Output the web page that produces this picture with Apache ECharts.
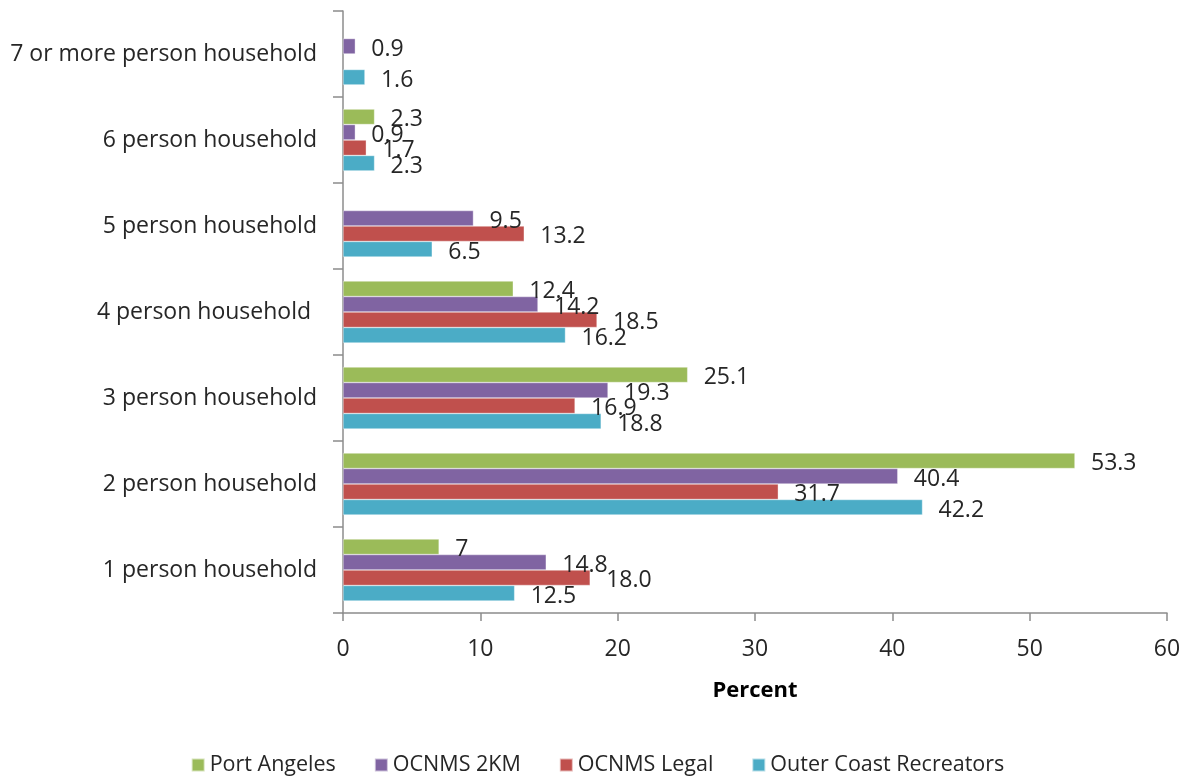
<!DOCTYPE html>
<html>
<head>
<meta charset="utf-8">
<title>Household size</title>
<script src="https://cdn.jsdelivr.net/npm/echarts@6/dist/echarts.min.js"></script>
<style>
  html, body { margin: 0; padding: 0; background: #fff; }
  #chart { width: 1195px; height: 776px; }
</style>
</head>
<body>
<div id="chart"></div>
<script>
// Household size categories, bottom to top on the category axis
const categories = [
  '1 person household',
  '2 person household',
  '3 person household',
  '4 person household ',
  '5 person household',
  '6 person household',
  '7 or more person household'
];

// Percent of respondents in each group (null = no value reported)
const portAngeles = [7, 53.3, 25.1, 12.4, null, 2.3, null];
const ocnms2km = [14.8, 40.4, 19.3, 14.2, 9.5, 0.9, 0.9];
const ocnmsLegal = [18.0, 31.7, 16.9, 18.5, 13.2, 1.7, null];
const outerCoast = [12.5, 42.2, 18.8, 16.2, 6.5, 2.3, 1.6];

const seriesNames = ['Port Angeles', 'OCNMS 2KM', 'OCNMS Legal', 'Outer Coast Recreators'];
const seriesValues = [portAngeles, ocnms2km, ocnmsLegal, outerCoast];
const seriesColors = ['#9BBB59', '#8064A2', '#C0504D', '#4BACC6'];
// Port Angeles values are printed as entered; the rest with one decimal
const labelDecimals = [null, 1, 1, 1];

const xTicks = { min: 0, max: 60, interval: 10 };

const FONT = '"Open Sans", "Noto Sans", sans-serif';
const TEXT = '#262626';
const AXIS = '#8c8c8c';

const chart = echarts.init(document.getElementById('chart'), null, { renderer: 'canvas' });

const series = seriesNames.map((name, i) => ({
  name: name,
  type: 'bar',
  data: seriesValues[i],
  barGap: '0%',
  barCategoryGap: '28%',
  itemStyle: { color: seriesColors[i], borderColor: 'rgba(255,255,255,0.6)', borderWidth: 0.6 },
  label: {
    show: true,
    position: 'right',
    distance: 16,
    fontFamily: FONT,
    fontSize: 23,
    color: TEXT,
    offset: [0, 3],
    formatter: p => {
      const d = labelDecimals[i];
      return d == null ? String(p.value) : Number(p.value).toFixed(d);
    }
  }
}));

chart.setOption({
  animation: false,
  textStyle: { fontFamily: FONT },
  grid: { left: 343, right: 28, top: 11, bottom: 163, containLabel: false },
  legend: {
    data: seriesNames,
    top: 749,
    left: 'center',
    icon: 'rect',
    itemWidth: 13,
    itemHeight: 13,
    itemGap: 38,
    textStyle: { fontFamily: FONT, fontSize: 21.5, color: TEXT }
  },
  xAxis: {
    type: 'value',
    min: xTicks.min,
    max: xTicks.max,
    interval: xTicks.interval,
    name: 'Percent',
    nameLocation: 'middle',
    nameGap: 67,
    nameTextStyle: { fontFamily: FONT, fontSize: 22, fontWeight: 'bold', color: '#000' },
    axisLine: { show: true, lineStyle: { color: AXIS, width: 1.5 } },
    axisTick: { show: true, length: 8, lineStyle: { color: AXIS, width: 1.5 } },
    splitLine: { show: false },
    axisLabel: { margin: 25, fontFamily: FONT, fontSize: 23, color: TEXT }
  },
  yAxis: {
    type: 'category',
    data: categories,
    axisLine: { show: true, lineStyle: { color: AXIS, width: 1.5 } },
    axisTick: { show: true, length: 10, alignWithLabel: false, lineStyle: { color: AXIS, width: 1.5 } },
    axisLabel: { margin: 26, fontFamily: FONT, fontSize: 23, color: TEXT }
  },
  series: series
});
</script>
</body>
</html>
